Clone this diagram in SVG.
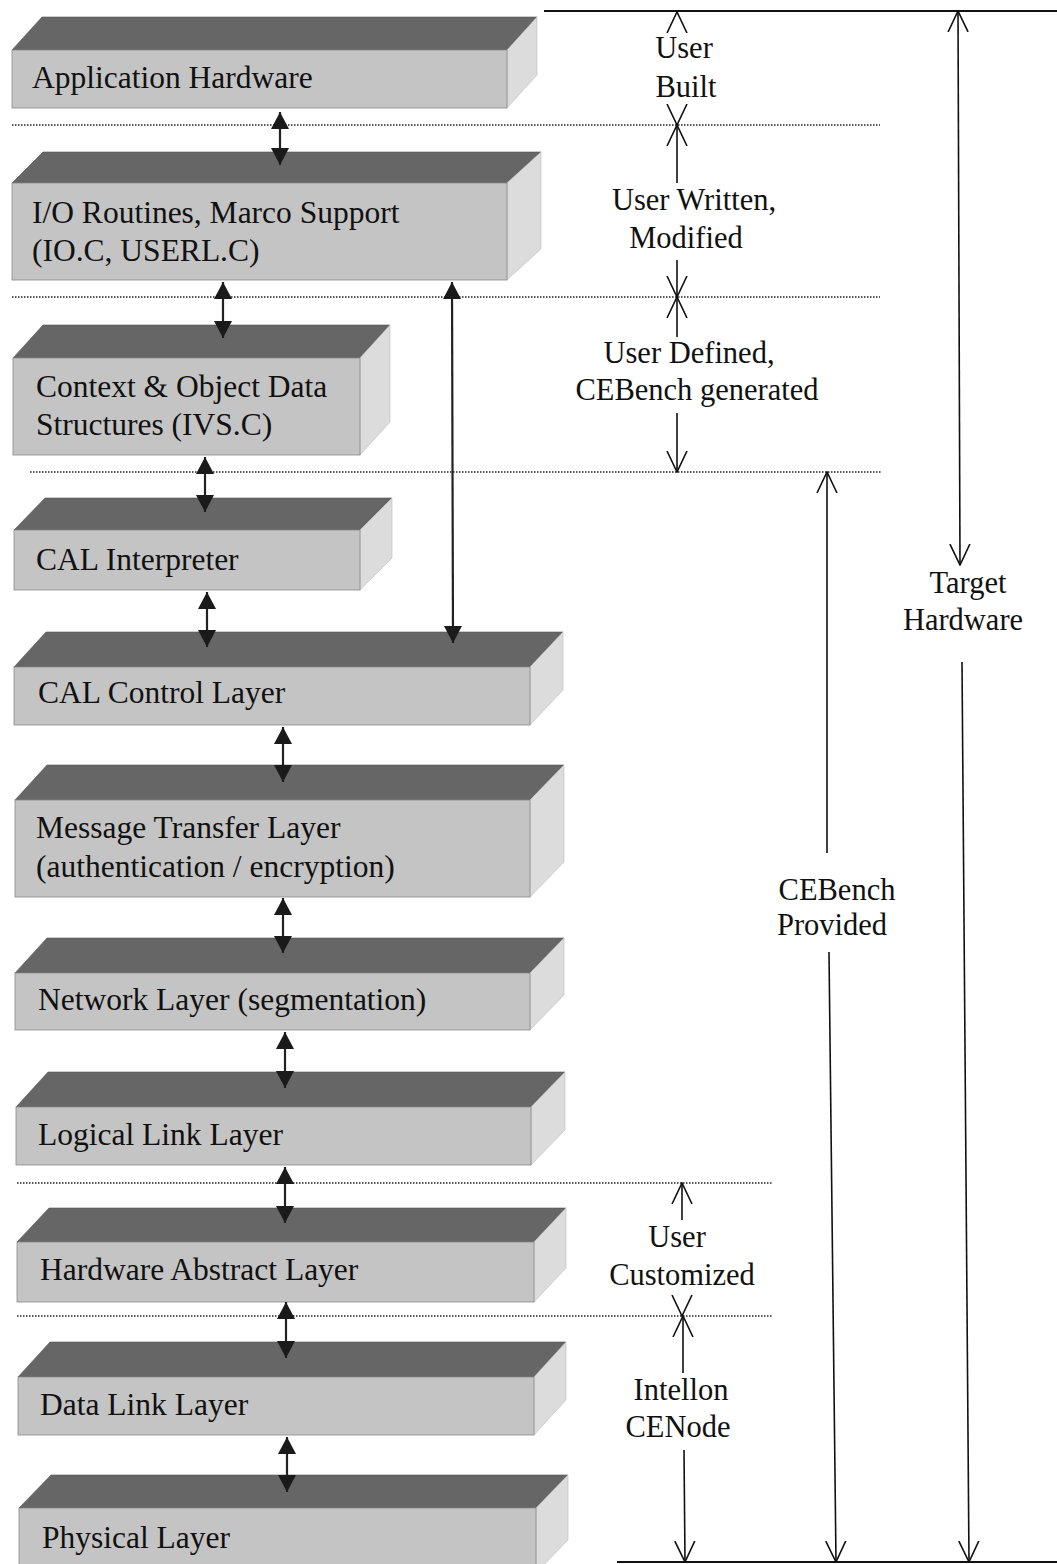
<svg xmlns="http://www.w3.org/2000/svg" width="1057" height="1564" viewBox="0 0 1057 1564">
<style>
.front{fill:#c4c4c4;stroke:#8a8a8a;stroke-width:0.8}
.top{fill:#666666;stroke:#555555;stroke-width:0.6}
.side{fill:#dcdcdc;stroke:#bdbdbd;stroke-width:0.6}
.lbl{font-family:"Liberation Serif","Times New Roman",serif;font-size:31.5px;fill:#111}
.rl{font-family:"Liberation Serif","Times New Roman",serif;font-size:30.5px;fill:#111;text-anchor:middle}
.dot{stroke:#222;stroke-width:1.4;stroke-dasharray:1.5 1.5;fill:none}
.solid{stroke:#111;stroke-width:2;fill:none}
.thick{stroke:#222;stroke-width:2.2;fill:none;marker-start:url(#fa);marker-end:url(#fa)}
.thin{stroke:#111;stroke-width:1.6;fill:none}
.v{marker-end:url(#va)}
.vv{marker-start:url(#va);marker-end:url(#va)}
</style>
<defs>
<marker id="fa" viewBox="0 0 17 18" refX="17" refY="9" markerWidth="17" markerHeight="18" markerUnits="userSpaceOnUse" orient="auto-start-reverse">
<path d="M0,0 L17,9 L0,18 z" fill="#1a1a1a"/>
</marker>
<marker id="va" viewBox="0 0 22 22" refX="21" refY="11" markerWidth="22" markerHeight="22" markerUnits="userSpaceOnUse" orient="auto-start-reverse">
<path d="M0,1 L21,11 L0,21" fill="none" stroke="#111" stroke-width="1.6"/>
</marker>
</defs>
<rect width="1057" height="1564" fill="#fff"/>

<g id="separators">
<line class="dot" x1="12" y1="125" x2="880" y2="125"/>
<line class="dot" x1="12" y1="297" x2="880" y2="297"/>
<line class="dot" x1="30" y1="472" x2="882" y2="472"/>
<line class="dot" x1="17" y1="1183" x2="772" y2="1183"/>
<line class="dot" x1="17" y1="1316" x2="773" y2="1316"/>
<line class="solid" x1="544" y1="11" x2="1057" y2="11"/>
<line class="solid" x1="617" y1="1562" x2="1057" y2="1562"/>
</g>

<g id="box-application-hardware">
<polygon class="top" points="12,50 42,17 537,17 507,50"/>
<polygon class="side" points="507,50 537,17 537,75 507,108"/>
<rect class="front" x="12" y="50" width="495" height="58"/>
<text class="lbl" x="32" y="88">Application Hardware</text>
</g>
<g id="box-io-routines">
<polygon class="top" points="12,183 43,152 541,152 507,183"/>
<polygon class="side" points="507,183 541,152 541,249 507,280"/>
<rect class="front" x="12" y="183" width="495" height="97"/>
<text class="lbl" x="32" y="223">I/O Routines, Marco Support</text>
<text class="lbl" x="32" y="261">(IO.C, USERL.C)</text>
</g>
<g id="box-context-object">
<polygon class="top" points="13,358 43,325 390,325 360,358"/>
<polygon class="side" points="360,358 390,325 390,422 360,455"/>
<rect class="front" x="13" y="358" width="347" height="97"/>
<text class="lbl" x="36" y="397">Context &amp; Object Data</text>
<text class="lbl" x="36" y="435">Structures (IVS.C)</text>
</g>
<g id="box-cal-interpreter">
<polygon class="top" points="14,530 45,498 392,498 360,530"/>
<polygon class="side" points="360,530 392,498 392,558 360,590"/>
<rect class="front" x="14" y="530" width="346" height="60"/>
<text class="lbl" x="36" y="570">CAL Interpreter</text>
</g>
<g id="box-cal-control">
<polygon class="top" points="14,667 46,632 563,632 530,667"/>
<polygon class="side" points="530,667 563,632 563,690 530,725"/>
<rect class="front" x="14" y="667" width="516" height="58"/>
<text class="lbl" x="38" y="703">CAL Control Layer</text>
</g>
<g id="box-message-transfer">
<polygon class="top" points="15,800 47,765 564,765 530,800"/>
<polygon class="side" points="530,800 564,765 564,862 530,897"/>
<rect class="front" x="15" y="800" width="515" height="97"/>
<text class="lbl" x="36" y="838">Message Transfer Layer</text>
<text class="lbl" x="36" y="877">(authentication / encryption)</text>
</g>
<g id="box-network">
<polygon class="top" points="15,973 47,938 564,938 530,973"/>
<polygon class="side" points="530,973 564,938 564,995 530,1030"/>
<rect class="front" x="15" y="973" width="515" height="57"/>
<text class="lbl" x="38" y="1010">Network Layer (segmentation)</text>
</g>
<g id="box-logical-link">
<polygon class="top" points="16,1107 48,1072 565,1072 531,1107"/>
<polygon class="side" points="531,1107 565,1072 565,1130 531,1165"/>
<rect class="front" x="16" y="1107" width="515" height="58"/>
<text class="lbl" x="38" y="1145">Logical Link Layer</text>
</g>
<g id="box-hardware-abstract">
<polygon class="top" points="17,1242 49,1208 566,1208 534,1242"/>
<polygon class="side" points="534,1242 566,1208 566,1268 534,1302"/>
<rect class="front" x="17" y="1242" width="517" height="60"/>
<text class="lbl" x="40" y="1280">Hardware Abstract Layer</text>
</g>
<g id="box-data-link">
<polygon class="top" points="18,1377 50,1342 566,1342 534,1377"/>
<polygon class="side" points="534,1377 566,1342 566,1400 534,1435"/>
<rect class="front" x="18" y="1377" width="516" height="58"/>
<text class="lbl" x="40" y="1415">Data Link Layer</text>
</g>
<g id="box-physical">
<polygon class="top" points="19,1508 51,1475 568,1475 536,1508"/>
<polygon class="side" points="536,1508 568,1475 568,1540 536,1573"/>
<rect class="front" x="19" y="1508" width="517" height="62"/>
<text class="lbl" x="42" y="1548">Physical Layer</text>
</g>

<g id="connectors">
<line class="thick" x1="280" y1="112" x2="280" y2="165"/>
<line class="thick" x1="223" y1="282" x2="223" y2="338"/>
<line class="thick" x1="452" y1="282" x2="453" y2="643"/>
<line class="thick" x1="205" y1="457" x2="205" y2="512"/>
<line class="thick" x1="207" y1="592" x2="207" y2="647"/>
<line class="thick" x1="283" y1="727" x2="283" y2="782"/>
<line class="thick" x1="283" y1="898" x2="283" y2="953"/>
<line class="thick" x1="285" y1="1032" x2="285" y2="1088"/>
<line class="thick" x1="285" y1="1167" x2="285" y2="1223"/>
<line class="thick" x1="286" y1="1302" x2="286" y2="1358"/>
<line class="thick" x1="287" y1="1437" x2="287" y2="1492"/>

<line class="thin v" x1="677" y1="13" x2="677" y2="12"/>
<line class="thin v" x1="677" y1="124" x2="677" y2="125"/>
<line class="thin v" x1="677" y1="183" x2="677" y2="125"/>
<line class="thin v" x1="677" y1="260" x2="677" y2="297"/>
<line class="thin v" x1="677" y1="337" x2="677" y2="297"/>
<line class="thin v" x1="677" y1="413" x2="677" y2="472"/>
<line class="thin v" x1="827" y1="853" x2="827" y2="472"/>
<line class="thin v" x1="829" y1="952" x2="836" y2="1562"/>
<line class="thin vv" x1="958" y1="11" x2="960" y2="565"/>
<line class="thin v" x1="962" y1="662" x2="969" y2="1562"/>
<line class="thin v" x1="682" y1="1220" x2="682" y2="1183"/>
<line class="thin v" x1="682" y1="1315" x2="682" y2="1316"/>
<line class="thin v" x1="683" y1="1373" x2="683" y2="1316"/>
<line class="thin v" x1="684" y1="1450" x2="685" y2="1562"/>
</g>

<g id="labels">
<text class="rl" x="684" y="58">User</text>
<text class="rl" x="686" y="97">Built</text>
<text class="rl" x="694" y="210">User Written,</text>
<text class="rl" x="686" y="248">Modified</text>
<text class="rl" x="689" y="363">User Defined,</text>
<text class="rl" x="697" y="400">CEBench generated</text>
<text class="rl" x="837" y="900">CEBench</text>
<text class="rl" x="832" y="935">Provided</text>
<text class="rl" x="968" y="593">Target</text>
<text class="rl" x="963" y="630">Hardware</text>
<text class="rl" x="677" y="1247">User</text>
<text class="rl" x="682" y="1285">Customized</text>
<text class="rl" x="681" y="1400">Intellon</text>
<text class="rl" x="678" y="1437">CENode</text>
</g>
</svg>
